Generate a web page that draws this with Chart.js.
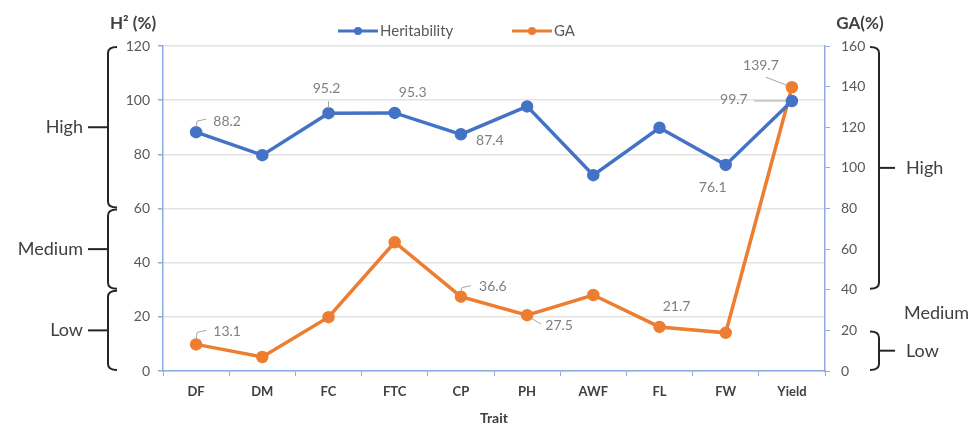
<!DOCTYPE html>
<html>
<head>
<meta charset="utf-8">
<script src="https://cdn.jsdelivr.net/npm/chart.js@4/dist/chart.umd.min.js"></script>
<style>
html,body{margin:0;padding:0;background:#fff;}
#wrap{width:976px;height:430px;position:relative;}
</style>
</head>
<body>
<div id="wrap"><canvas id="c" width="976" height="430"></canvas></div>
<script>
// ---- data ----
const traits = ['DF','DM','FC','FTC','CP','PH','AWF','FL','FW','Yield'];
const heritability = [88.2, 79.7, 95.2, 95.3, 87.4, 97.7, 72.3, 89.8, 76.1, 99.7];
const ga = [13.1, 6.9, 26.5, 63.4, 36.6, 27.5, 37.4, 21.7, 18.8, 139.7];
const leftTicks = [0, 20, 40, 60, 80, 100, 120];
const rightTicks = [0, 20, 40, 60, 80, 100, 120, 140, 160];
// values that get a data label (index list per series)
const hLabelIdx = [0, 2, 3, 4, 8, 9];
const gLabelIdx = [0, 4, 5, 7, 9];
// label offsets (style only): [dx, dy] from point
const hLabelOff = {0:[31,-11], 2:[-2,-25], 3:[18,-20], 4:[29,6], 8:[-13,23], 9:[-58,-1]};
const gLabelOff = {0:[31,-13], 4:[32,-10], 5:[32,10], 7:[17,-20], 9:[-31,-22]};

const FONT = 'Lato, "Liberation Sans", sans-serif';
const BLUE = '#4472C4', ORANGE = '#ED7D31', AXIS = '#8FAADC';

const decor = {
  id: 'decor',
  afterDatasetsDraw(chart) {
    const ctx = chart.ctx;
    const y = chart.scales.y, y2 = chart.scales.y2, x = chart.scales.x;
    ctx.save();
    // data labels
    ctx.font = '14px ' + FONT;
    ctx.fillStyle = '#7f7f7f';
    ctx.textAlign = 'center';
    ctx.textBaseline = 'middle';
    const drawLbl = (vals, idxs, offs, scale) => {
      idxs.forEach(i => {
        const px = x.getPixelForValue(i), py = scale.getPixelForValue(vals[i]);
        const o = offs[i];
        ctx.fillText(vals[i].toFixed(1), px + o[0], py + o[1]);
      });
    };
    drawLbl(heritability, hLabelIdx, hLabelOff, y);
    drawLbl(ga, gLabelIdx, gLabelOff, y2);
    // leader lines
    ctx.strokeStyle = '#a6a6a6';
    ctx.lineWidth = 1;
    const lead = (px, py, pts) => {
      ctx.beginPath();
      ctx.moveTo(px + pts[0][0], py + pts[0][1]);
      for (let k = 1; k < pts.length; k++) ctx.lineTo(px + pts[k][0], py + pts[k][1]);
      ctx.stroke();
    };
    let px, py;
    px = x.getPixelForValue(0); py = y.getPixelForValue(heritability[0]);
    lead(px, py, [[0,-5],[1,-11],[10,-13]]);
    px = x.getPixelForValue(0); py = y2.getPixelForValue(ga[0]);
    lead(px, py, [[0,-5],[1,-12],[10,-14]]);
    px = x.getPixelForValue(4); py = y2.getPixelForValue(ga[4]);
    lead(px, py, [[0,-5],[1,-9],[10,-11]]);
    px = x.getPixelForValue(5); py = y2.getPixelForValue(ga[5]);
    lead(px, py, [[4,3],[14,9]]);
    px = x.getPixelForValue(9); py = y.getPixelForValue(heritability[9]);
    lead(px, py, [[-6,0],[-38,0]]);
    px = x.getPixelForValue(9); py = y2.getPixelForValue(ga[9]);
    lead(px, py, [[-5,-2],[-26,-10]]);
    px = x.getPixelForValue(2); py = y.getPixelForValue(heritability[2]);
    lead(px, py, [[0,-5],[0,-12]]);
    ctx.restore();
  },
  afterDraw(chart) {
    const ctx = chart.ctx;
    const y = chart.scales.y, y2 = chart.scales.y2;
    ctx.save();
    // legend
    const legend = [['Heritability', BLUE, 338], ['GA', ORANGE, 512]];
    ctx.font = '15px ' + FONT;
    ctx.textBaseline = 'middle';
    ctx.textAlign = 'left';
    legend.forEach(([t, c, lx]) => {
      ctx.strokeStyle = c; ctx.lineWidth = 3;
      ctx.beginPath(); ctx.moveTo(lx, 31); ctx.lineTo(lx + 40, 31); ctx.stroke();
      ctx.fillStyle = c;
      ctx.beginPath(); ctx.arc(lx + 20, 31, 4, 0, Math.PI * 2); ctx.fill();
      ctx.fillStyle = '#595959';
      ctx.fillText(t, lx + 42, 31);
    });
    // axis titles
    ctx.font = 'bold 17px ' + FONT;
    ctx.fillStyle = '#404040';
    ctx.textAlign = 'center';
    ctx.fillText('H\u00B2 (%)', 133, 24);
    ctx.fillText('GA(%)', 860, 24);
    // brackets
    ctx.strokeStyle = '#262626';
    ctx.lineWidth = 2;
    ctx.font = '18px ' + FONT;
    ctx.fillStyle = '#404040';
    const leftBrace = (vTop, vBot, text) => {
      const bx = 108;
      const t = y.getPixelForValue(vTop), b = y.getPixelForValue(vBot);
      const m = (t + b) / 2;
      ctx.beginPath();
      ctx.moveTo(bx + 9, t + 1);
      ctx.quadraticCurveTo(bx, t + 1, bx, t + 7);
      ctx.lineTo(bx, b - 7);
      ctx.quadraticCurveTo(bx, b - 1, bx + 9, b - 1);
      ctx.stroke();
      ctx.beginPath(); ctx.moveTo(bx, m); ctx.lineTo(bx - 20, m); ctx.stroke();
      ctx.textAlign = 'right';
      ctx.fillText(text, bx - 25, m);
    };
    leftBrace(120, 60, 'High');
    leftBrace(60, 30, 'Medium');
    leftBrace(30, 0, 'Low');
    const rightBrace = (vTop, vBot, vMid, text) => {
      const bx = 879;
      const t = y2.getPixelForValue(vTop), b = y2.getPixelForValue(vBot);
      const m = y2.getPixelForValue(vMid);
      ctx.beginPath();
      ctx.moveTo(bx - 9, t + 1);
      ctx.quadraticCurveTo(bx, t + 1, bx, t + 7);
      ctx.lineTo(bx, b - 7);
      ctx.quadraticCurveTo(bx, b - 1, bx - 9, b - 1);
      ctx.stroke();
      ctx.beginPath(); ctx.moveTo(bx, m); ctx.lineTo(bx + 16, m); ctx.stroke();
      ctx.textAlign = 'left';
      ctx.fillText(text, bx + 27, m);
    };
    rightBrace(160, 40, 100, 'High');
    rightBrace(20, 0, 10, 'Low');
    ctx.textAlign = 'left';
    ctx.fillText('Medium', 904, y2.getPixelForValue(28.5));
    ctx.restore();
  }
};

new Chart(document.getElementById('c'), {
  type: 'line',
  data: {
    labels: traits,
    datasets: [
      { label: 'Heritability', data: heritability, yAxisID: 'y', borderColor: BLUE, backgroundColor: BLUE,
        borderWidth: 3.5, pointRadius: 4.5, pointBackgroundColor: BLUE, pointBorderColor: BLUE, tension: 0 },
      { label: 'GA', data: ga, yAxisID: 'y2', borderColor: ORANGE, backgroundColor: ORANGE,
        borderWidth: 3.5, pointRadius: 4.5, pointBackgroundColor: ORANGE, pointBorderColor: ORANGE, tension: 0 }
    ]
  },
  options: {
    responsive: false,
    animation: false,
    layout: { padding: { top: 46, left: 0, right: 0, bottom: 0 } },
    plugins: { legend: { display: false }, tooltip: { enabled: false } },
    scales: {
      x: {
        offset: true,
        grid: { drawOnChartArea: false, drawTicks: true, tickLength: 5, tickColor: AXIS, offset: true },
        border: { color: AXIS, width: 1.5 },
        ticks: { color: '#404040', font: { family: FONT, size: 13, weight: 'bold' }, padding: 8 },
        title: { display: true, text: 'Trait', color: '#404040', font: { family: FONT, size: 14, weight: 'bold' }, padding: { top: 2, bottom: 3 } },
        afterFit: s => { s.height = 59; }
      },
      y: {
        position: 'left', min: 0, max: 120,
        afterBuildTicks: s => { s.ticks = leftTicks.map(v => ({ value: v })); },
        grid: { color: '#e3e3e3', lineWidth: 1.5, tickLength: 5, tickColor: AXIS },
        border: { color: AXIS, width: 1.5 },
        ticks: { color: '#595959', font: { family: FONT, size: 14 }, padding: 8 },
        afterFit: s => { s.width = 163; }
      },
      y2: {
        position: 'right', min: 0, max: 160,
        afterBuildTicks: s => { s.ticks = rightTicks.map(v => ({ value: v })); },
        grid: { drawOnChartArea: false, tickLength: 5, tickColor: AXIS },
        border: { color: AXIS, width: 1.5 },
        ticks: { color: '#595959', font: { family: FONT, size: 14 }, padding: 11 },
        afterFit: s => { s.width = 151; }
      }
    }
  },
  plugins: [decor]
});
</script>
</body>
</html>
